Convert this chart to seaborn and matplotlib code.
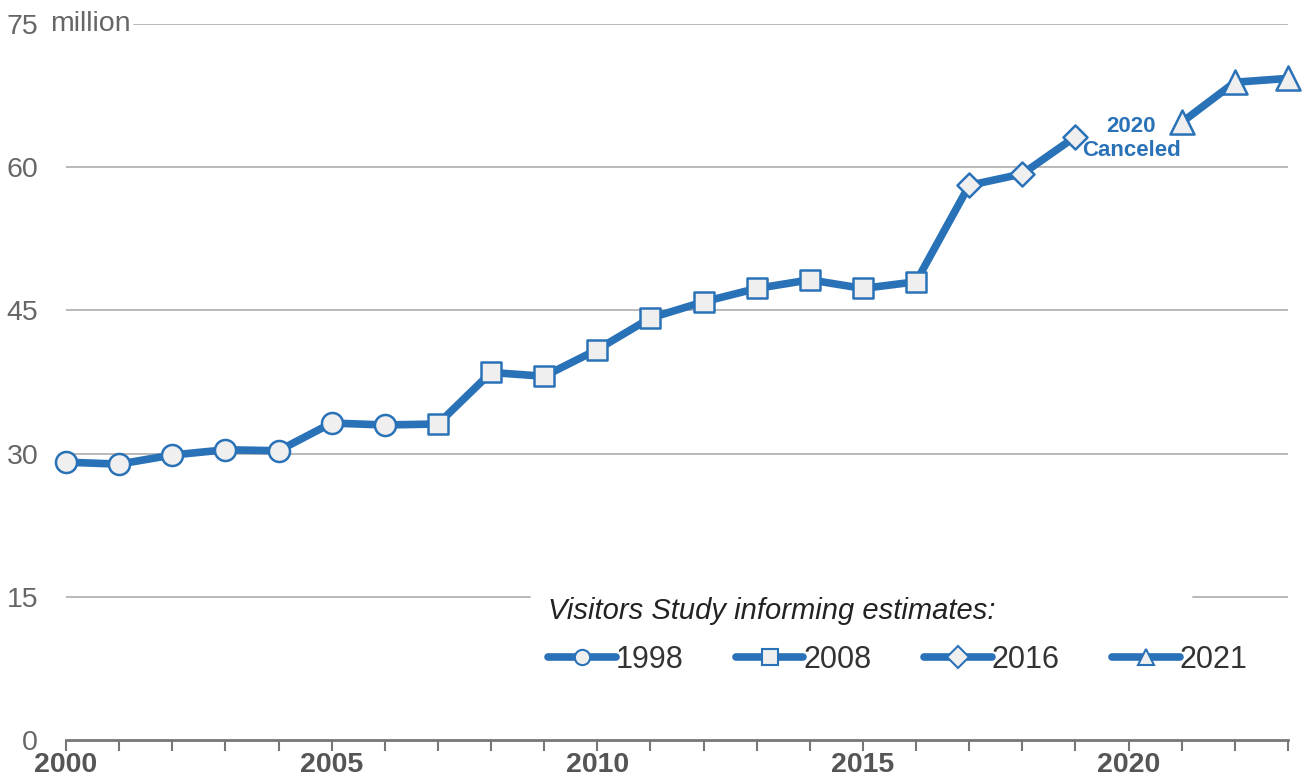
import pandas as pd
import matplotlib.pyplot as plt
import seaborn as sns
from matplotlib.lines import Line2D

# Visitantes por ano (milhoes) - 2020 cancelado
anos = [2000, 2001, 2002, 2003, 2004, 2005, 2006, 2007, 2008, 2009, 2010, 2011,
        2012, 2013, 2014, 2015, 2016, 2017, 2018, 2019, 2021, 2022, 2023]
visitantes = [29.1, 28.9, 29.85, 30.4, 30.3, 33.2, 33.0, 33.1, 38.5, 38.1, 40.9, 44.2,
              45.9, 47.3, 48.2, 47.3, 48.0, 58.1, 59.3, 63.2, 64.7, 68.9, 69.3]
estudo = ['1998'] * 7 + ['2008'] * 10 + ['2016'] * 3 + ['2021'] * 3
segmento = [1] * 20 + [2] * 3
estudos = ['1998', '2008', '2016', '2021']
y_ticks = [0, 15, 30, 45, 60, 75]
x_ticks = [2000, 2005, 2010, 2015, 2020]

df = pd.DataFrame({'ano': anos, 'visitantes': visitantes, 'estudo': estudo, 'seg': segmento})

azul = '#2a72b8'
cinza_claro = '#efefef'
marcadores = {'1998': 'o', '2008': 's', '2016': 'D', '2021': '^'}
tamanhos = {'1998': 230, '2008': 190, '2016': 150, '2021': 300}

sns.set_style('white')
plt.rcParams['font.family'] = ['Liberation Sans', 'DejaVu Sans']

fig = plt.figure(figsize=(13.04, 7.81), dpi=100)
ax = fig.add_axes([66 / 1304, 41 / 781, 1222 / 1304, 716 / 781])

# linhas de grade (a de 15 tem um buraco atras da legenda)
ax.axhline(75, xmin=0.056, xmax=1, color='#b3b3b3', lw=1.3, zorder=0)
for v in [30, 45, 60]:
    ax.axhline(v, color='#b3b3b3', lw=1.3, zorder=0)
ax.axhline(15, xmin=0, xmax=(530 - 66) / 1222, color='#b3b3b3', lw=1.3, zorder=0)
ax.axhline(15, xmin=(1193 - 66) / 1222, xmax=1, color='#b3b3b3', lw=1.3, zorder=0)

sns.lineplot(data=df, x='ano', y='visitantes', units='seg', estimator=None,
             color=azul, lw=5.5, ax=ax, zorder=3, clip_on=False)

for est in estudos:
    sub = df[df['estudo'] == est]
    sns.scatterplot(data=sub, x='ano', y='visitantes', marker=marcadores[est],
                    s=tamanhos[est], color=cinza_claro, edgecolor=azul, linewidth=1.8,
                    ax=ax, zorder=4, clip_on=False, legend=False)

ax.set_xlim(2000, 2023)
ax.set_ylim(0, 75)
ax.set_xlabel('')
ax.set_ylabel('')

for s in ['top', 'right', 'left']:
    ax.spines[s].set_visible(False)
ax.spines['bottom'].set_color('#777777')
ax.spines['bottom'].set_linewidth(2)

ax.set_xticks(list(range(2000, 2024)))
ax.set_xticklabels([str(a) if a in x_ticks else '' for a in range(2000, 2024)],
                   fontsize=20.5, fontweight='bold', color='#555555')
ax.tick_params(axis='x', length=8, width=1.5, color='#777777', pad=1, bottom=True)

ax.set_yticks(y_ticks)
ax.set_yticklabels([str(v) for v in y_ticks], fontsize=20.5, color='#666666')
ax.tick_params(axis='y', length=0, pad=20)
ax.text(-0.013, 75, 'million', transform=ax.get_yaxis_transform(), ha='left', va='center',
        fontsize=20.5, color='#666666')

ax.text(2020.05, 63.0, '2020\nCanceled', ha='center', va='center', fontsize=16,
        fontweight='bold', color=azul, linespacing=1.15)

handles = [Line2D([0], [0], color=azul, lw=5.5, marker=marcadores[e], markersize=11,
                  markerfacecolor=cinza_claro, markeredgecolor=azul, markeredgewidth=1.5)
           for e in estudos]
leg = ax.legend(handles, estudos, title='Visitors Study informing estimates:', ncol=4,
                loc='upper left', bbox_to_anchor=((533 - 66) / 1222, (740 - 582) / 716),
                frameon=False, fontsize=22, handlelength=2.2, handletextpad=0.0,
                columnspacing=1.73, alignment='left', borderpad=0, labelspacing=0.65)
leg.get_title().set_fontsize(21)
leg.get_title().set_fontstyle('italic')
leg.get_title().set_color('#222222')
for t in leg.get_texts():
    t.set_color('#333333')
leg.set_zorder(5)

plt.savefig('out.png', dpi=100)
